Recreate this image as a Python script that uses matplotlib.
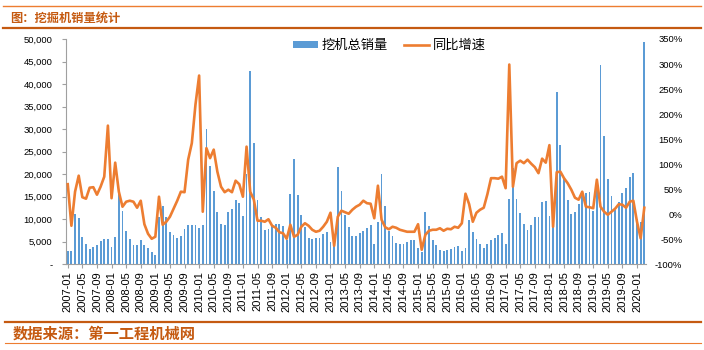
import matplotlib
matplotlib.use("Agg")
import matplotlib.pyplot as plt
from matplotlib.lines import Line2D
from matplotlib.patches import Patch
from matplotlib.ticker import FuncFormatter
import numpy as np

plt.rcParams['font.family'] = ['Liberation Sans', 'Noto Sans CJK SC', 'DejaVu Sans']

BAR_COLOR = "#5B9BD5"
LINE_COLOR = "#ED7D31"
DARK_ORANGE = "#C55A11"

# month labels 2007-01 .. 2020-03
months = []
for y in range(2007, 2021):
    for m in range(1, 13):
        months.append(f"{y}-{m:02d}")
months = months[:159]

# excavator total sales per month (units)
sales_2007 = [2900, 2900, 11200, 10300, 6100, 4500, 3500, 3900, 4300, 5200, 5600, 5600]
sales_2008 = [3800, 6000, 16500, 11900, 7400, 5600, 4300, 4300, 5400, 4300, 3600, 2700]
sales_2009 = [2100, 10400, 13000, 10400, 7200, 6500, 5800, 6300, 7800, 8700, 8700, 8700]
sales_2010 = [8100, 8700, 30100, 21900, 16300, 11600, 9000, 8700, 11600, 12300, 14300, 13600]
sales_2011 = [10700, 20100, 43000, 27000, 14300, 10400, 7600, 7800, 8400, 9000, 9000, 8500]
sales_2012 = [5300, 15600, 23400, 15400, 11000, 8300, 5800, 5600, 5800, 5800, 6700, 7200]
sales_2013 = [5000, 4300, 21600, 16300, 11000, 8300, 6300, 6300, 7000, 7400, 8100, 8700]
sales_2014 = [4500, 9400, 20100, 13000, 7400, 6300, 4700, 4500, 4500, 5000, 5300, 5400]
sales_2015 = [3600, 2700, 11600, 8500, 5400, 4300, 3200, 3000, 3200, 3400, 3800, 4100]
sales_2016 = [3000, 3600, 9900, 7200, 5600, 4500, 3600, 4500, 5400, 5800, 6500, 7000]
sales_2017 = [4500, 14500, 21300, 14500, 11400, 9000, 7600, 8700, 10500, 10500, 13900, 14100]
sales_2018 = [10700, 8300, 38300, 26500, 19000, 14300, 11200, 11600, 13400, 16300, 15900, 16100]
sales_2019 = [11900, 18700, 44300, 28500, 19000, 15200, 12100, 13800, 15800, 17000, 19400, 20300]
sales_2020 = [10100, 9400, 49400]

# year-on-year growth (%)
yoy_2007 = [60, -23, 45, 77, 34, 31, 53, 54, 39, 55, 75, 177]
yoy_2008 = [32, 103, 45, 15, 25, 27, 25, 13, 27, -20, -39, -49]
yoy_2009 = [-45, 35, -21, -15, -5, 11, 27, 45, 44, 109, 142, 219]
yoy_2010 = [277, 5, 132, 112, 129, 85, 55, 44, 49, 44, 67, 60]
yoy_2011 = [35, 135, 45, 29, -13, -13, -15, -10, -23, -27, -36, -38]
yoy_2012 = [-49, -21, -45, -41, -25, -18, -23, -31, -35, -33, -25, -15]
yoy_2013 = [3, -63, -5, 7, 4, 1, 9, 15, 19, 27, 22, 21]
yoy_2014 = [-8, 57, -11, -26, -30, -25, -27, -31, -33, -35, -35, -35]
yoy_2015 = [-20, -71, -41, -33, -31, -31, -28, -33, -29, -30, -25, -27]
yoy_2016 = [-18, 41, 20, -15, 3, 9, 13, 40, 72, 72, 71, 75]
yoy_2017 = [52, 299, 55, 102, 107, 102, 109, 101, 94, 82, 111, 103]
yoy_2018 = [138, -25, 84, 85, 72, 62, 49, 33, 29, 45, 15, 14]
yoy_2019 = [12, 69, 15, 5, -1, 5, 11, 20, 19, 13, 25, 27]
yoy_2020 = [-15, -48, 13]

sales = (sales_2007 + sales_2008 + sales_2009 + sales_2010 + sales_2011 + sales_2012 + sales_2013
         + sales_2014 + sales_2015 + sales_2016 + sales_2017 + sales_2018 + sales_2019 + sales_2020)
yoy = (yoy_2007 + yoy_2008 + yoy_2009 + yoy_2010 + yoy_2011 + yoy_2012 + yoy_2013
       + yoy_2014 + yoy_2015 + yoy_2016 + yoy_2017 + yoy_2018 + yoy_2019 + yoy_2020)

bar_label = "挖机总销量"
line_label = "同比增速"
title = "图：挖掘机销量统计"
source = "数据来源：第一工程机械网"

W, H = 704, 350
fig = plt.figure(figsize=(W / 100, H / 100), dpi=100)

def fx(px):
    return px / W

def fy(py):
    return 1 - py / H

ax = fig.add_axes([fx(66.3), fy(264.3), fx(646.3) - fx(66.3), fy(39) - fy(264.3)])
x = np.arange(len(sales))
ax.bar(x, sales, width=0.5, color=BAR_COLOR, zorder=2)
ax.set_xlim(-0.4, len(sales) - 0.45)
ax.set_ylim(0, 50000)
ax.set_yticks(np.arange(0, 50001, 5000))
ax.yaxis.set_major_formatter(FuncFormatter(lambda v, p: "-" if v == 0 else f"{v:,.0f}"))
ax.set_xticks(x[::4])
ax.set_xticklabels(months[::4], rotation=90, fontsize=8)
ax.tick_params(axis='y', labelsize=6.8, length=3, color='#A0A0A0', pad=7)
ax.tick_params(axis='x', length=3, color='#A0A0A0', pad=2)
for s in ['top', 'right']:
    ax.spines[s].set_visible(False)
for s in ['left', 'bottom']:
    ax.spines[s].set_color('#A0A0A0')
    ax.spines[s].set_linewidth(0.8)

ax2 = ax.twinx()
ax2.plot(x, yoy, color=LINE_COLOR, lw=1.9, solid_joinstyle='round', zorder=3)
ax2.set_ylim(-100, 350)
ax2.set_yticks(np.arange(-100, 351, 50))
ax2.yaxis.set_major_formatter(FuncFormatter(lambda v, p: f"{v:.0f}%"))
ax2.tick_params(axis='y', labelsize=6.8, length=0, pad=26)
plt.setp(ax2.get_yticklabels(), ha='right')
for s in ax2.spines.values():
    s.set_visible(False)

handles = [Patch(facecolor=BAR_COLOR, edgecolor='none'),
           Line2D([0], [0], color=LINE_COLOR, lw=1.9)]
leg = ax.legend(handles, [bar_label, line_label], loc='center', bbox_to_anchor=(0.557, 0.969),
                ncol=2, frameon=False, fontsize=9.5, handlelength=1.9, handleheight=0.5,
                handletextpad=0.3, columnspacing=1.2, borderaxespad=0)
leg.set_zorder(5)

# decorative header / footer
fig.add_artist(Line2D([fx(3), fx(701)], [fy(6), fy(6)], color=LINE_COLOR, lw=1.0))
fig.add_artist(Line2D([fx(3), fx(701)], [fy(27.8), fy(27.8)], color=DARK_ORANGE, lw=1.6))
fig.add_artist(Line2D([fx(5), fx(701)], [fy(321.5), fy(321.5)], color=DARK_ORANGE, lw=1.6))
fig.add_artist(Line2D([fx(5), fx(701)], [fy(343.3), fy(343.3)], color=LINE_COLOR, lw=0.8))

fig.text(fx(10), fy(18), title, fontsize=8.8, fontweight='bold', color=DARK_ORANGE,
         va='center', ha='left', family=['Noto Sans CJK SC', 'DejaVu Sans'])
fig.text(fx(13), fy(333.5), source, fontsize=11, fontweight='bold', color=DARK_ORANGE,
         va='center', ha='left', family=['Noto Sans CJK SC', 'DejaVu Sans'])

fig.savefig("out.png", dpi=100)
